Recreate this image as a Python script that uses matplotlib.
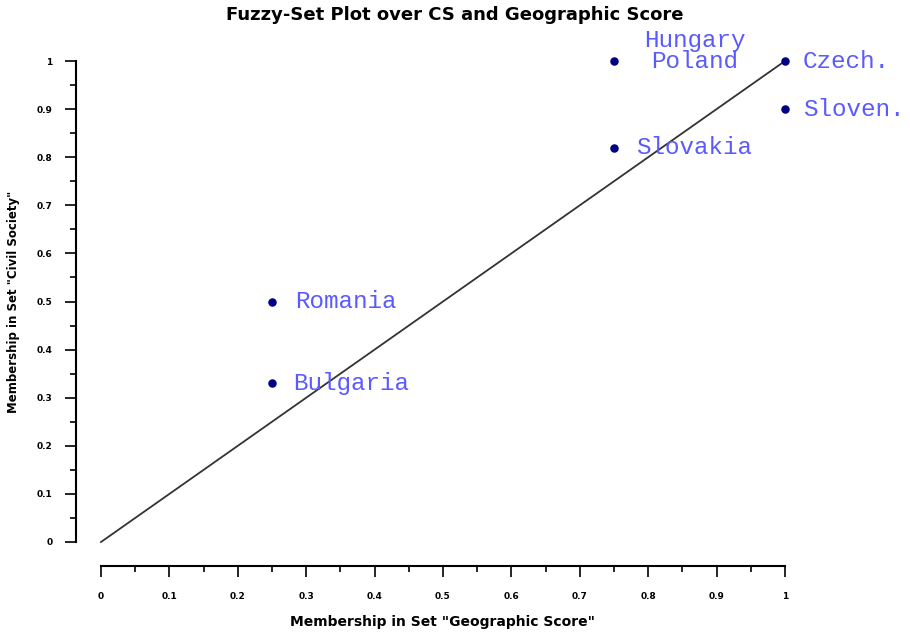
import matplotlib
matplotlib.use("Agg")
import matplotlib.pyplot as plt
from matplotlib.ticker import MultipleLocator

countries = ["Czech.", "Sloven.", "Poland", "Hungary", "Slovakia", "Romania", "Bulgaria"]
geo_score = [1.0, 1.0, 0.75, 0.75, 0.75, 0.25, 0.25]
civil_society = [1.0, 0.9, 1.0, 1.0, 0.82, 0.5, 0.33]
# label offsets in points (dx, dy)
label_offsets = [(13, 0), (13, 0), (26, 0), (26, 15), (16, 0), (17, 0), (15, 0)]

fig = plt.figure(figsize=(9.1, 6.39), dpi=100)
ax = fig.add_axes([0.111, 0.1518, 0.7516, 0.7527])

ax.plot([0, 1], [0, 1], color="#333333", lw=1.3, clip_on=False)
ax.scatter(geo_score[:3] + geo_score[4:], civil_society[:3] + civil_society[4:],
           s=26, color="#000080", zorder=3, clip_on=False)

for name, x, y, off in zip(countries, geo_score, civil_society, label_offsets):
    ha = "left"
    if name in ("Poland", "Hungary"):
        ha = "center"
        off = (off[0] + 32, off[1])
    ax.annotate(name, (x, y), xytext=off, textcoords="offset points",
                ha=ha, va="center", color="#5a5aff", fontsize=17.5,
                family="Liberation Mono", annotation_clip=False)

ax.set_xlim(0, 1)
ax.set_ylim(0, 1)
for side in ("top", "right"):
    ax.spines[side].set_visible(False)
ax.spines["left"].set_position(("outward", 18))
ax.spines["bottom"].set_position(("outward", 17))
ax.spines["left"].set_linewidth(1.5)
ax.spines["bottom"].set_linewidth(1.5)

ax.xaxis.set_major_locator(MultipleLocator(0.1))
ax.xaxis.set_minor_locator(MultipleLocator(0.05))
ax.yaxis.set_major_locator(MultipleLocator(0.1))
ax.yaxis.set_minor_locator(MultipleLocator(0.05))
ax.tick_params(which="major", length=8, width=1.2, labelsize=6.5, direction="out")
ax.tick_params(which="minor", length=4, width=1.2, direction="out")
ax.tick_params(axis="x", pad=11)
ax.tick_params(axis="y", pad=9)

fmt = lambda v, p: "0" if abs(v) < 1e-9 else ("1" if abs(v - 1) < 1e-9 else f"{v:.1f}")
ax.xaxis.set_major_formatter(fmt)
ax.yaxis.set_major_formatter(fmt)
for lbl in ax.get_xticklabels() + ax.get_yticklabels():
    lbl.set_fontweight("bold")

ax.set_xlabel('Membership in Set "Geographic Score"', fontsize=10, fontweight="bold", labelpad=10)
ax.set_ylabel('Membership in Set "Civil Society"', fontsize=8.5, fontweight="bold", labelpad=12)
fig.suptitle("Fuzzy-Set Plot over CS and Geographic Score", fontsize=13, fontweight="bold", y=0.99)

fig.savefig("out.png", dpi=100)
